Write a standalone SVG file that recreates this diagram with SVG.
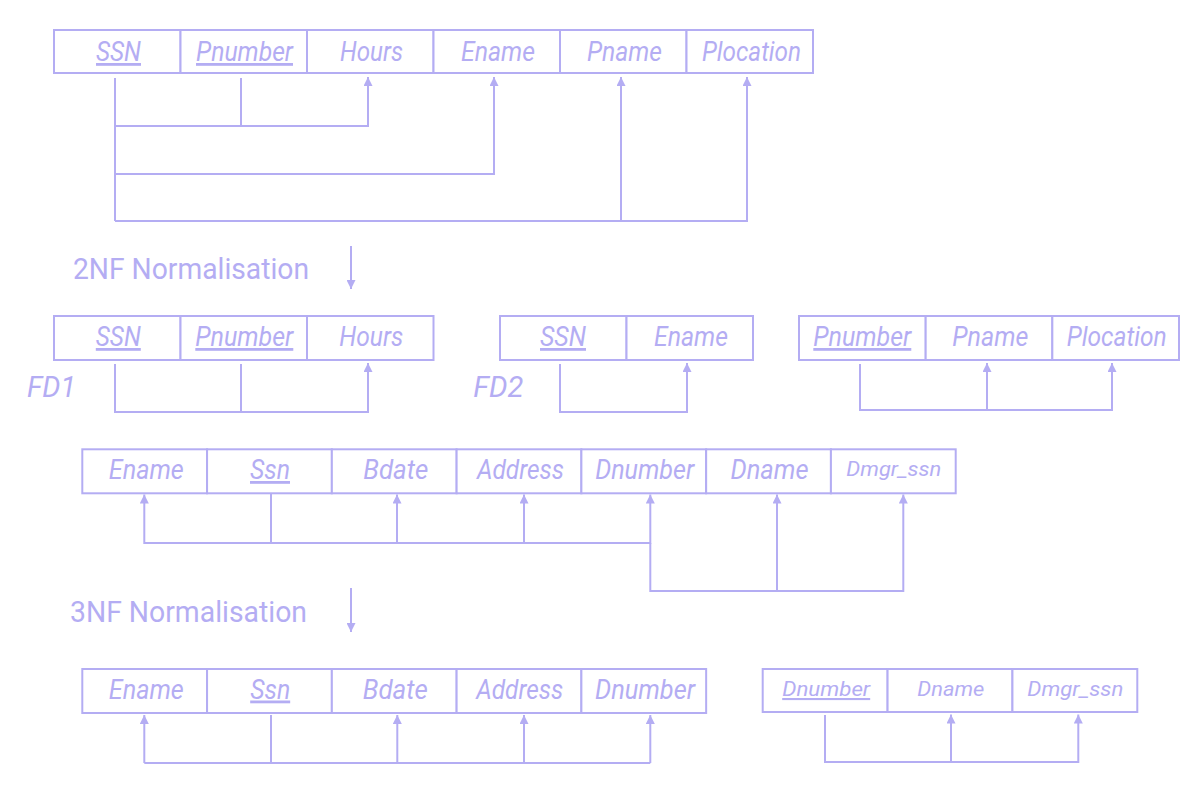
<svg xmlns="http://www.w3.org/2000/svg" width="1201" height="795" viewBox="0 0 1201 795">
<style>
  .cell { fill: #ffffff; stroke: #b4adf3; stroke-width: 2; }
  .t { font-family: Roboto, "Liberation Sans", sans-serif; font-style: italic; font-size: 28px; fill: #b4adf3; text-anchor: middle; }
  .s { font-size: 21px; }
  .u { text-decoration: underline; }
  .lbl { font-family: Roboto, "Liberation Sans", sans-serif; font-size: 30px; fill: #b4adf3; }
  .fd { font-family: Roboto, "Liberation Sans", sans-serif; font-style: italic; font-size: 29px; fill: #b4adf3; text-anchor: middle; }
  .c { fill: none; stroke: #b4adf3; stroke-width: 2; }
</style>
<defs>
  <marker id="ah" viewBox="0 0 10 10" refX="10" refY="5" markerUnits="userSpaceOnUse" markerWidth="9" markerHeight="9" orient="auto">
    <path d="M0,0 L10,5 L0,10 z" fill="#b4adf3"/>
  </marker>
</defs>
<rect width="1201" height="795" fill="#ffffff"/>

<!-- Top relation -->
<g id="rel-top">
  <rect class="cell" x="54" y="30" width="126.5" height="43"/>
  <rect class="cell" x="180.5" y="30" width="126.5" height="43"/>
  <rect class="cell" x="307" y="30" width="126.5" height="43"/>
  <rect class="cell" x="433.5" y="30" width="126.5" height="43"/>
  <rect class="cell" x="560" y="30" width="126.5" height="43"/>
  <rect class="cell" x="686.5" y="30" width="126.5" height="43"/>
  <text class="t u" x="118.5" y="61" textLength="45" lengthAdjust="spacingAndGlyphs">SSN</text>
  <text class="t u" x="244.5" y="61" textLength="97" lengthAdjust="spacingAndGlyphs">Pnumber</text>
  <text class="t" x="371.5" y="61" textLength="63" lengthAdjust="spacingAndGlyphs">Hours</text>
  <text class="t" x="498" y="61" textLength="74" lengthAdjust="spacingAndGlyphs">Ename</text>
  <text class="t" x="624.5" y="61" textLength="75" lengthAdjust="spacingAndGlyphs">Pname</text>
  <text class="t" x="751.5" y="61" textLength="99" lengthAdjust="spacingAndGlyphs">Plocation</text>
</g>

<g id="label-2nf">
  <text class="lbl" x="73" y="279" textLength="236" lengthAdjust="spacingAndGlyphs">2NF Normalisation</text>
</g>

<!-- FD1 relation -->
<g id="rel-fd1">
  <rect class="cell" x="54" y="316" width="126.5" height="44"/>
  <rect class="cell" x="180.5" y="316" width="126.5" height="44"/>
  <rect class="cell" x="307" y="316" width="126.5" height="44"/>
  <text class="t u" x="118.3" y="346" textLength="45" lengthAdjust="spacingAndGlyphs">SSN</text>
  <text class="t u" x="244.3" y="346" textLength="98" lengthAdjust="spacingAndGlyphs">Pnumber</text>
  <text class="t" x="371.3" y="346" textLength="64" lengthAdjust="spacingAndGlyphs">Hours</text>
</g>
<g id="label-fd1">
  <text class="fd" x="51.5" y="397" textLength="49" lengthAdjust="spacingAndGlyphs">FD1</text>
</g>

<!-- FD2 relation -->
<g id="rel-fd2">
  <rect class="cell" x="500" y="316" width="126.5" height="44"/>
  <rect class="cell" x="626.5" y="316" width="126.5" height="44"/>
  <text class="t u" x="563" y="346" textLength="46" lengthAdjust="spacingAndGlyphs">SSN</text>
  <text class="t" x="691" y="346" textLength="74" lengthAdjust="spacingAndGlyphs">Ename</text>
</g>
<g id="label-fd2">
  <text class="fd" x="498.3" y="397" textLength="50" lengthAdjust="spacingAndGlyphs">FD2</text>
</g>

<!-- Project relation -->
<g id="rel-project">
  <rect class="cell" x="799" y="316" width="126.67" height="44"/>
  <rect class="cell" x="925.67" y="316" width="126.67" height="44"/>
  <rect class="cell" x="1052.33" y="316" width="126.67" height="44"/>
  <text class="t u" x="862.3" y="346" textLength="98" lengthAdjust="spacingAndGlyphs">Pnumber</text>
  <text class="t" x="990.3" y="346" textLength="76" lengthAdjust="spacingAndGlyphs">Pname</text>
  <text class="t" x="1116.7" y="346" textLength="100" lengthAdjust="spacingAndGlyphs">Plocation</text>
</g>

<!-- Employee relation -->
<g id="rel-employee">
  <rect class="cell" x="82.3" y="449.3" width="124.77" height="44"/>
  <rect class="cell" x="207.07" y="449.3" width="124.77" height="44"/>
  <rect class="cell" x="331.84" y="449.3" width="124.77" height="44"/>
  <rect class="cell" x="456.61" y="449.3" width="124.77" height="44"/>
  <rect class="cell" x="581.38" y="449.3" width="124.77" height="44"/>
  <rect class="cell" x="706.15" y="449.3" width="124.77" height="44"/>
  <rect class="cell" x="830.92" y="449.3" width="124.78" height="44"/>
  <text class="t" x="146.3" y="479" textLength="75" lengthAdjust="spacingAndGlyphs">Ename</text>
  <text class="t u" x="270" y="479" textLength="40" lengthAdjust="spacingAndGlyphs">Ssn</text>
  <text class="t" x="395.8" y="479" textLength="65" lengthAdjust="spacingAndGlyphs">Bdate</text>
  <text class="t" x="520.5" y="479" textLength="87" lengthAdjust="spacingAndGlyphs">Address</text>
  <text class="t" x="644.7" y="479" textLength="99" lengthAdjust="spacingAndGlyphs">Dnumber</text>
  <text class="t" x="769.5" y="479" textLength="78" lengthAdjust="spacingAndGlyphs">Dname</text>
  <text class="t s" x="893.8" y="476" textLength="95" lengthAdjust="spacingAndGlyphs">Dmgr_ssn</text>
</g>

<g id="label-3nf">
  <text class="lbl" x="70" y="621.7" textLength="237" lengthAdjust="spacingAndGlyphs">3NF Normalisation</text>
</g>

<!-- 3NF Employee relation -->
<g id="rel-employee-3nf">
  <rect class="cell" x="82.3" y="669" width="124.77" height="44"/>
  <rect class="cell" x="207.07" y="669" width="124.77" height="44"/>
  <rect class="cell" x="331.84" y="669" width="124.77" height="44"/>
  <rect class="cell" x="456.61" y="669" width="124.77" height="44"/>
  <rect class="cell" x="581.38" y="669" width="124.77" height="44"/>
  <text class="t" x="146.3" y="698.5" textLength="75" lengthAdjust="spacingAndGlyphs">Ename</text>
  <text class="t u" x="270.2" y="698.5" textLength="40" lengthAdjust="spacingAndGlyphs">Ssn</text>
  <text class="t" x="395.3" y="698.5" textLength="65" lengthAdjust="spacingAndGlyphs">Bdate</text>
  <text class="t" x="519.8" y="698.5" textLength="87" lengthAdjust="spacingAndGlyphs">Address</text>
  <text class="t" x="645" y="698.5" textLength="100" lengthAdjust="spacingAndGlyphs">Dnumber</text>
</g>

<!-- Department relation -->
<g id="rel-department">
  <rect class="cell" x="762.7" y="669" width="124.87" height="43"/>
  <rect class="cell" x="887.57" y="669" width="124.87" height="43"/>
  <rect class="cell" x="1012.44" y="669" width="124.86" height="43"/>
  <text class="t s u" x="826.2" y="696" textLength="88" lengthAdjust="spacingAndGlyphs">Dnumber</text>
  <text class="t s" x="950.8" y="696" textLength="67" lengthAdjust="spacingAndGlyphs">Dname</text>
  <text class="t s" x="1075.3" y="696" textLength="96" lengthAdjust="spacingAndGlyphs">Dmgr_ssn</text>
</g>

<!-- Connectors -->
<g id="connectors">
  <!-- top relation FDs -->
  <path class="c" d="M115,78 V221"/>
  <path class="c" d="M241,78 V126"/>
  <path class="c" d="M115,126 H368 V77" marker-end="url(#ah)"/>
  <path class="c" d="M115,174 H494 V77" marker-end="url(#ah)"/>
  <path class="c" d="M115,221 H747 V77" marker-end="url(#ah)"/>
  <path class="c" d="M621,221 V77" marker-end="url(#ah)"/>
  <!-- 2NF arrow -->
  <path class="c" d="M351,246 V289" marker-end="url(#ah)"/>
  <!-- FD1 -->
  <path class="c" d="M115,364 V412 H368 V363" marker-end="url(#ah)"/>
  <path class="c" d="M241,364 V412"/>
  <!-- FD2 -->
  <path class="c" d="M560,364 V412 H687 V363" marker-end="url(#ah)"/>
  <!-- Project -->
  <path class="c" d="M860,364 V410 H1112 V363" marker-end="url(#ah)"/>
  <path class="c" d="M987,410 V363" marker-end="url(#ah)"/>
  <!-- Employee -->
  <path class="c" d="M271,494 V543 H144.3 V494.5" marker-end="url(#ah)"/>
  <path class="c" d="M271,543 H650.3 V494.5" marker-end="url(#ah)"/>
  <path class="c" d="M397,543 V494.5" marker-end="url(#ah)"/>
  <path class="c" d="M524,543 V494.5" marker-end="url(#ah)"/>
  <path class="c" d="M650.3,543 V591 H903.3 V494.5" marker-end="url(#ah)"/>
  <path class="c" d="M777,591 V494.5" marker-end="url(#ah)"/>
  <!-- 3NF arrow -->
  <path class="c" d="M351,588 V632" marker-end="url(#ah)"/>
  <!-- 3NF Employee -->
  <path class="c" d="M271,715 V763"/>
  <path class="c" d="M144.3,763 H650.3"/>
  <path class="c" d="M144.3,763 V715" marker-end="url(#ah)"/>
  <path class="c" d="M397.3,763 V715" marker-end="url(#ah)"/>
  <path class="c" d="M524,763 V715" marker-end="url(#ah)"/>
  <path class="c" d="M650.3,763 V715" marker-end="url(#ah)"/>
  <!-- Department -->
  <path class="c" d="M825,715 V762 H1078.3 V714.5" marker-end="url(#ah)"/>
  <path class="c" d="M951,762 V714.5" marker-end="url(#ah)"/>
</g>
</svg>
